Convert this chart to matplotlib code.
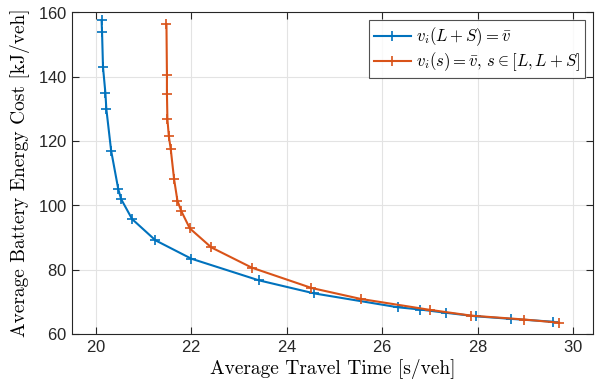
import matplotlib.pyplot as plt

# travel time [s/veh] vs energy cost [kJ/veh]
blue_t = [20.12, 20.13, 20.15, 20.20, 20.22, 20.32, 20.47, 20.53, 20.76, 21.25,
          22.00, 23.41, 24.58, 26.33, 26.80, 27.33, 27.96, 28.70, 29.59]
blue_e = [157.5, 153.7, 142.9, 134.9, 129.9, 117.0, 105.0, 101.9, 95.7, 89.1,
          83.4, 76.7, 72.6, 68.3, 67.6, 66.6, 65.5, 64.7, 63.8]

orange_t = [21.48, 21.49, 21.49, 21.50, 21.53, 21.57, 21.64, 21.71, 21.79, 21.97,
            22.42, 23.27, 24.52, 25.55, 27.00, 27.87, 28.98, 29.71]
orange_e = [156.3, 140.4, 134.6, 126.8, 121.4, 117.4, 108.1, 101.4, 98.2, 92.8,
            86.9, 80.6, 74.3, 70.9, 67.5, 65.7, 64.5, 63.5]

x_ticks = [20, 22, 24, 26, 28, 30]
y_ticks = [60, 80, 100, 120, 140, 160]

plt.rcParams['mathtext.fontset'] = 'cm'
plt.rcParams['axes.formatter.use_mathtext'] = True

fig = plt.figure(figsize=(5.95, 3.92), dpi=100)
ax = fig.add_axes([0.121, 0.148, 0.8756, 0.821])

ax.plot(blue_t, blue_e, color='#0072BD', lw=1.5, marker='+', ms=7, mew=1.2,
        label=r'$v_i(L+S)=\bar{v}$')
ax.plot(orange_t, orange_e, color='#D95319', lw=1.5, marker='+', ms=7, mew=1.2,
        label=r'$v_i(s)=\bar{v},\,s\in[L,L+S]$')

ax.set_xlim(19.5, 30.42)
ax.set_ylim(60, 160)
ax.set_xticks(x_ticks)
ax.set_yticks(y_ticks)
ax.grid(True, color='#e3e3e3', lw=0.8)
ax.set_axisbelow(True)

for sp in ax.spines.values():
    sp.set_color('#262626')
    sp.set_linewidth(0.8)
ax.tick_params(direction='in', top=True, right=True, length=5, width=0.8,
               color='#262626', labelsize=12, labelcolor='#262626')
for lbl in ax.get_xticklabels() + ax.get_yticklabels():
    lbl.set_family('Liberation Sans')

ax.set_xlabel('Average Travel Time [s/veh]', family='cmr10', fontsize=14, labelpad=3)
ax.set_ylabel('Average Battery Energy Cost [kJ/veh]', family='cmr10', fontsize=14, labelpad=6)

leg = ax.legend(loc='upper right', fontsize=12, frameon=True, fancybox=False,
                edgecolor='#262626', borderpad=0.3, handlelength=2.2,
                handletextpad=0.3, labelspacing=0.15, borderaxespad=0.5)
leg.get_frame().set_linewidth(0.8)

fig.savefig('out.png', dpi=100)
